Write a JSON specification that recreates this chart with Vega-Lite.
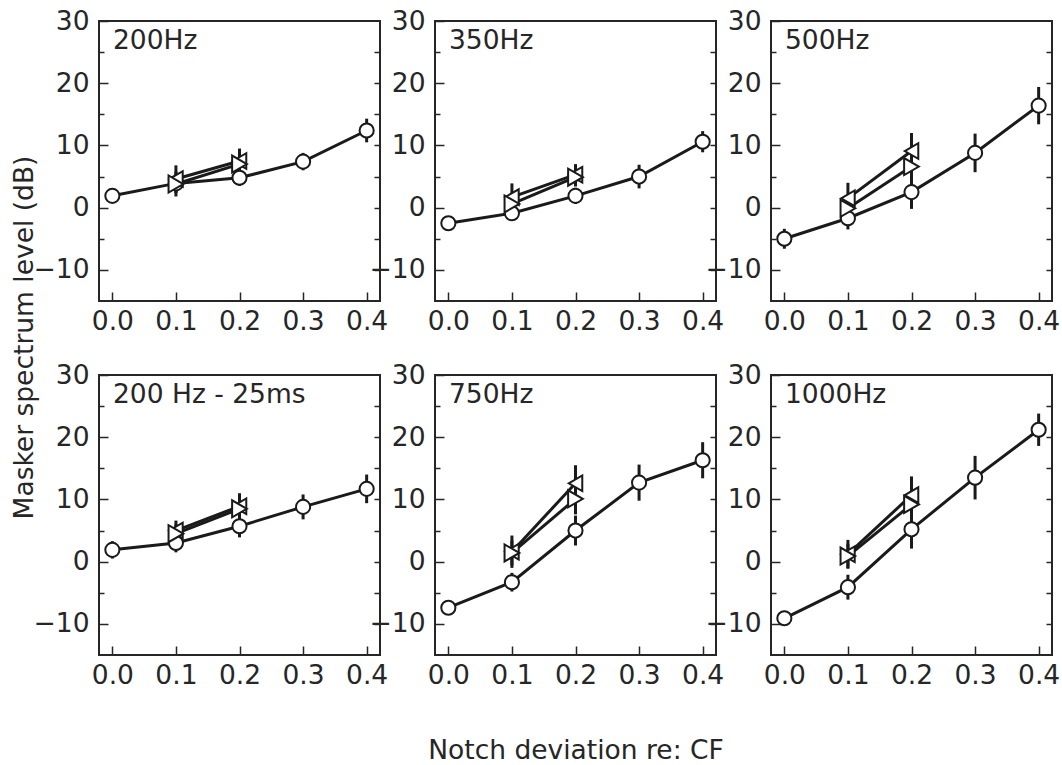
{
  "$schema": "https://vega.github.io/schema/vega-lite/v6.json",
  "padding": {"left": 10, "top": 7, "right": 0, "bottom": 0},
  "background": "white",
  "config": {
    "view": {"stroke": "#262626", "strokeWidth": 2},
    "font": "DejaVu Sans",
    "title": {"font": "DejaVu Sans", "fontSize": 26.5, "fontWeight": "normal", "color": "#262626"},
    "axis": {"labelFont": "DejaVu Sans", "labelFontSize": 26.5, "labelColor": "#262626", "tickColor": "#262626", "tickWidth": 1.5, "grid": false, "domain": false,
             "titleFont": "DejaVu Sans", "titleFontSize": 26.5, "titleFontWeight": "normal", "titleColor": "#262626"}
  },
  "data": {
    "values": [
      {"panel": "200Hz", "series": "circle", "x": 0.0, "y": 1.9, "err": 1.0},
      {"panel": "200Hz", "series": "circle", "x": 0.1, "y": 3.9, "err": 1.5},
      {"panel": "200Hz", "series": "circle", "x": 0.2, "y": 4.8, "err": 1.3},
      {"panel": "200Hz", "series": "circle", "x": 0.3, "y": 7.4, "err": 1.4},
      {"panel": "200Hz", "series": "circle", "x": 0.4, "y": 12.4, "err": 1.9},
      {"panel": "200Hz", "series": "triangle-left", "x": 0.1, "y": 4.6, "err": 2.2},
      {"panel": "200Hz", "series": "triangle-left", "x": 0.2, "y": 7.5, "err": 2.0},
      {"panel": "200Hz", "series": "triangle-right", "x": 0.1, "y": 3.8, "err": 2.0},
      {"panel": "200Hz", "series": "triangle-right", "x": 0.2, "y": 7.0, "err": 1.8},

      {"panel": "350Hz", "series": "circle", "x": 0.0, "y": -2.5, "err": 1.0},
      {"panel": "350Hz", "series": "circle", "x": 0.1, "y": -0.9, "err": 1.2},
      {"panel": "350Hz", "series": "circle", "x": 0.2, "y": 1.9, "err": 1.3},
      {"panel": "350Hz", "series": "circle", "x": 0.3, "y": 5.0, "err": 1.9},
      {"panel": "350Hz", "series": "circle", "x": 0.4, "y": 10.6, "err": 1.7},
      {"panel": "350Hz", "series": "triangle-left", "x": 0.1, "y": 1.7, "err": 2.2},
      {"panel": "350Hz", "series": "triangle-left", "x": 0.2, "y": 5.3, "err": 1.7},
      {"panel": "350Hz", "series": "triangle-right", "x": 0.1, "y": 0.6, "err": 1.5},
      {"panel": "350Hz", "series": "triangle-right", "x": 0.2, "y": 4.9, "err": 1.5},

      {"panel": "500Hz", "series": "circle", "x": 0.0, "y": -5.0, "err": 1.6},
      {"panel": "500Hz", "series": "circle", "x": 0.1, "y": -1.7, "err": 1.8},
      {"panel": "500Hz", "series": "circle", "x": 0.2, "y": 2.5, "err": 2.7},
      {"panel": "500Hz", "series": "circle", "x": 0.3, "y": 8.8, "err": 3.1},
      {"panel": "500Hz", "series": "circle", "x": 0.4, "y": 16.4, "err": 3.0},
      {"panel": "500Hz", "series": "triangle-left", "x": 0.1, "y": 1.5, "err": 2.5},
      {"panel": "500Hz", "series": "triangle-left", "x": 0.2, "y": 9.1, "err": 2.9},
      {"panel": "500Hz", "series": "triangle-right", "x": 0.1, "y": -0.1, "err": 2.0},
      {"panel": "500Hz", "series": "triangle-right", "x": 0.2, "y": 6.6, "err": 2.5},

      {"panel": "200 Hz - 25ms", "series": "circle", "x": 0.0, "y": 1.9, "err": 1.4},
      {"panel": "200 Hz - 25ms", "series": "circle", "x": 0.1, "y": 3.0, "err": 1.5},
      {"panel": "200 Hz - 25ms", "series": "circle", "x": 0.2, "y": 5.7, "err": 1.8},
      {"panel": "200 Hz - 25ms", "series": "circle", "x": 0.3, "y": 8.8, "err": 2.0},
      {"panel": "200 Hz - 25ms", "series": "circle", "x": 0.4, "y": 11.7, "err": 2.3},
      {"panel": "200 Hz - 25ms", "series": "triangle-left", "x": 0.1, "y": 5.0, "err": 1.6},
      {"panel": "200 Hz - 25ms", "series": "triangle-left", "x": 0.2, "y": 8.9, "err": 2.1},
      {"panel": "200 Hz - 25ms", "series": "triangle-right", "x": 0.1, "y": 4.5, "err": 1.5},
      {"panel": "200 Hz - 25ms", "series": "triangle-right", "x": 0.2, "y": 8.5, "err": 2.0},

      {"panel": "750Hz", "series": "circle", "x": 0.0, "y": -7.4, "err": 1.0},
      {"panel": "750Hz", "series": "circle", "x": 0.1, "y": -3.3, "err": 1.5},
      {"panel": "750Hz", "series": "circle", "x": 0.2, "y": 5.0, "err": 2.4},
      {"panel": "750Hz", "series": "circle", "x": 0.3, "y": 12.7, "err": 2.9},
      {"panel": "750Hz", "series": "circle", "x": 0.4, "y": 16.3, "err": 2.9},
      {"panel": "750Hz", "series": "triangle-left", "x": 0.1, "y": 1.6, "err": 2.6},
      {"panel": "750Hz", "series": "triangle-left", "x": 0.2, "y": 12.6, "err": 2.9},
      {"panel": "750Hz", "series": "triangle-right", "x": 0.1, "y": 1.4, "err": 2.0},
      {"panel": "750Hz", "series": "triangle-right", "x": 0.2, "y": 10.1, "err": 2.5},

      {"panel": "1000Hz", "series": "circle", "x": 0.0, "y": -9.1, "err": 1.2},
      {"panel": "1000Hz", "series": "circle", "x": 0.1, "y": -4.1, "err": 2.0},
      {"panel": "1000Hz", "series": "circle", "x": 0.2, "y": 5.2, "err": 3.1},
      {"panel": "1000Hz", "series": "circle", "x": 0.3, "y": 13.5, "err": 3.5},
      {"panel": "1000Hz", "series": "circle", "x": 0.4, "y": 21.2, "err": 2.6},
      {"panel": "1000Hz", "series": "triangle-left", "x": 0.1, "y": 1.2, "err": 2.3},
      {"panel": "1000Hz", "series": "triangle-left", "x": 0.2, "y": 10.7, "err": 3.0},
      {"panel": "1000Hz", "series": "triangle-right", "x": 0.1, "y": 0.9, "err": 2.0},
      {"panel": "1000Hz", "series": "triangle-right", "x": 0.2, "y": 9.2, "err": 2.5}
    ]
  },
  "columns": 3,
  "spacing": {"row": 74, "column": 55},
  "bounds": "flush",
  "concat": [
    {
      "title": {"text": "200Hz", "anchor": "start", "frame": "group", "offset": -67, "dx": 14, "baseline": "alphabetic"},
      "width": 281, "height": 280,
      "transform": [{"filter": "datum.panel === '200Hz'"}],
      "encoding": {
        "x": {"field": "x", "type": "quantitative", "scale": {"domain": [-0.021, 0.421], "nice": false, "zero": false},
              "axis": {"values": [0, 0.1, 0.2, 0.3, 0.4], "format": ".1f", "tickSize": -9, "labelPadding": 16, "labelFlush": false, "title": null}}
      },
      "layer": [
        {"mark": {"type": "errorbar", "thickness": 3, "color": "#1a1a1a"},
         "encoding": {"y": {"field": "y", "type": "quantitative", "scale": {"domain": [-15, 30], "nice": false, "zero": false}, "axis": null}, "yError": {"field": "err"}}},
        {"mark": {"type": "line", "strokeWidth": 3, "color": "#1a1a1a"},
         "encoding": {"y": {"field": "y", "type": "quantitative", "scale": {"domain": [-15, 30], "nice": false, "zero": false},
                            "axis": {"orient": "right", "values": [-10, -5, 0, 5, 10, 15, 20, 25], "labels": false, "tickSize": -6, "title": null}},
                      "detail": {"field": "series"}}},
        {"mark": {"type": "point", "filled": true, "fill": "white", "stroke": "#1a1a1a", "strokeWidth": 2, "opacity": 1},
         "encoding": {"y": {"field": "y", "type": "quantitative", "scale": {"domain": [-15, 30], "nice": false, "zero": false},
                            "axis": {"orient": "left", "values": [-10, -5, 0, 5, 10, 15, 20, 25, 30], "labelExpr": "datum.value % 10 === 0 ? datum.label : ''", "tickSize": {"condition": {"test": "datum.value % 10 === 0", "value": -9}, "value": -5}, "labelPadding": 19, "labelOverlap": false,
                                     "title": "Masker spectrum level (dB)", "titleAnchor": "middle", "titleY": 316, "titlePadding": -5}},
                      "shape": {"field": "series", "type": "nominal", "scale": null},
                      "size": {"field": "series", "type": "ordinal", "scale": {"domain": ["circle", "triangle-left", "triangle-right"], "range": [200, 290, 290]}, "legend": null}}}
      ],
      "resolve": {"axis": {"y": "independent"}}
    },
    {
      "title": {"text": "350Hz", "anchor": "start", "frame": "group", "offset": -67, "dx": 14, "baseline": "alphabetic"},
      "width": 281, "height": 280,
      "transform": [{"filter": "datum.panel === '350Hz'"}],
      "encoding": {
        "x": {"field": "x", "type": "quantitative", "scale": {"domain": [-0.021, 0.421], "nice": false, "zero": false},
              "axis": {"values": [0, 0.1, 0.2, 0.3, 0.4], "format": ".1f", "tickSize": -9, "labelPadding": 16, "labelFlush": false, "title": null}}
      },
      "layer": [
        {"mark": {"type": "errorbar", "thickness": 3, "color": "#1a1a1a"},
         "encoding": {"y": {"field": "y", "type": "quantitative", "scale": {"domain": [-15, 30], "nice": false, "zero": false}, "axis": null}, "yError": {"field": "err"}}},
        {"mark": {"type": "line", "strokeWidth": 3, "color": "#1a1a1a"},
         "encoding": {"y": {"field": "y", "type": "quantitative", "scale": {"domain": [-15, 30], "nice": false, "zero": false},
                            "axis": {"orient": "right", "values": [-10, -5, 0, 5, 10, 15, 20, 25], "labels": false, "tickSize": -6, "title": null}},
                      "detail": {"field": "series"}}},
        {"mark": {"type": "point", "filled": true, "fill": "white", "stroke": "#1a1a1a", "strokeWidth": 2, "opacity": 1},
         "encoding": {"y": {"field": "y", "type": "quantitative", "scale": {"domain": [-15, 30], "nice": false, "zero": false},
                            "axis": {"orient": "left", "values": [-10, -5, 0, 5, 10, 15, 20, 25, 30], "labelExpr": "datum.value % 10 === 0 ? datum.label : ''", "tickSize": {"condition": {"test": "datum.value % 10 === 0", "value": -9}, "value": -5}, "labelPadding": 19, "labelOverlap": false, "title": null}},
                      "shape": {"field": "series", "type": "nominal", "scale": null},
                      "size": {"field": "series", "type": "ordinal", "scale": {"domain": ["circle", "triangle-left", "triangle-right"], "range": [200, 290, 290]}, "legend": null}}}
      ],
      "resolve": {"axis": {"y": "independent"}}
    },
    {
      "title": {"text": "500Hz", "anchor": "start", "frame": "group", "offset": -67, "dx": 14, "baseline": "alphabetic"},
      "width": 281, "height": 280,
      "transform": [{"filter": "datum.panel === '500Hz'"}],
      "encoding": {
        "x": {"field": "x", "type": "quantitative", "scale": {"domain": [-0.021, 0.421], "nice": false, "zero": false},
              "axis": {"values": [0, 0.1, 0.2, 0.3, 0.4], "format": ".1f", "tickSize": -9, "labelPadding": 16, "labelFlush": false, "title": null}}
      },
      "layer": [
        {"mark": {"type": "errorbar", "thickness": 3, "color": "#1a1a1a"},
         "encoding": {"y": {"field": "y", "type": "quantitative", "scale": {"domain": [-15, 30], "nice": false, "zero": false}, "axis": null}, "yError": {"field": "err"}}},
        {"mark": {"type": "line", "strokeWidth": 3, "color": "#1a1a1a"},
         "encoding": {"y": {"field": "y", "type": "quantitative", "scale": {"domain": [-15, 30], "nice": false, "zero": false},
                            "axis": {"orient": "right", "values": [-10, -5, 0, 5, 10, 15, 20, 25], "labels": false, "tickSize": -6, "title": null}},
                      "detail": {"field": "series"}}},
        {"mark": {"type": "point", "filled": true, "fill": "white", "stroke": "#1a1a1a", "strokeWidth": 2, "opacity": 1},
         "encoding": {"y": {"field": "y", "type": "quantitative", "scale": {"domain": [-15, 30], "nice": false, "zero": false},
                            "axis": {"orient": "left", "values": [-10, -5, 0, 5, 10, 15, 20, 25, 30], "labelExpr": "datum.value % 10 === 0 ? datum.label : ''", "tickSize": {"condition": {"test": "datum.value % 10 === 0", "value": -9}, "value": -5}, "labelPadding": 19, "labelOverlap": false, "title": null}},
                      "shape": {"field": "series", "type": "nominal", "scale": null},
                      "size": {"field": "series", "type": "ordinal", "scale": {"domain": ["circle", "triangle-left", "triangle-right"], "range": [200, 290, 290]}, "legend": null}}}
      ],
      "resolve": {"axis": {"y": "independent"}}
    },
    {
      "title": {"text": "200 Hz - 25ms", "anchor": "start", "frame": "group", "offset": -67, "dx": 14, "baseline": "alphabetic"},
      "width": 281, "height": 280,
      "transform": [{"filter": "datum.panel === '200 Hz - 25ms'"}],
      "encoding": {
        "x": {"field": "x", "type": "quantitative", "scale": {"domain": [-0.021, 0.421], "nice": false, "zero": false},
              "axis": {"values": [0, 0.1, 0.2, 0.3, 0.4], "format": ".1f", "tickSize": -9, "labelPadding": 16, "labelFlush": false, "title": null}}
      },
      "layer": [
        {"mark": {"type": "errorbar", "thickness": 3, "color": "#1a1a1a"},
         "encoding": {"y": {"field": "y", "type": "quantitative", "scale": {"domain": [-15, 30], "nice": false, "zero": false}, "axis": null}, "yError": {"field": "err"}}},
        {"mark": {"type": "line", "strokeWidth": 3, "color": "#1a1a1a"},
         "encoding": {"y": {"field": "y", "type": "quantitative", "scale": {"domain": [-15, 30], "nice": false, "zero": false},
                            "axis": {"orient": "right", "values": [-10, -5, 0, 5, 10, 15, 20, 25], "labels": false, "tickSize": -6, "title": null}},
                      "detail": {"field": "series"}}},
        {"mark": {"type": "point", "filled": true, "fill": "white", "stroke": "#1a1a1a", "strokeWidth": 2, "opacity": 1},
         "encoding": {"y": {"field": "y", "type": "quantitative", "scale": {"domain": [-15, 30], "nice": false, "zero": false},
                            "axis": {"orient": "left", "values": [-10, -5, 0, 5, 10, 15, 20, 25, 30], "labelExpr": "datum.value % 10 === 0 ? datum.label : ''", "tickSize": {"condition": {"test": "datum.value % 10 === 0", "value": -9}, "value": -5}, "labelPadding": 19, "labelOverlap": false, "title": null}},
                      "shape": {"field": "series", "type": "nominal", "scale": null},
                      "size": {"field": "series", "type": "ordinal", "scale": {"domain": ["circle", "triangle-left", "triangle-right"], "range": [200, 290, 290]}, "legend": null}}}
      ],
      "resolve": {"axis": {"y": "independent"}}
    },
    {
      "title": {"text": "750Hz", "anchor": "start", "frame": "group", "offset": -67, "dx": 14, "baseline": "alphabetic"},
      "width": 281, "height": 280,
      "transform": [{"filter": "datum.panel === '750Hz'"}],
      "encoding": {
        "x": {"field": "x", "type": "quantitative", "scale": {"domain": [-0.021, 0.421], "nice": false, "zero": false},
              "axis": {"values": [0, 0.1, 0.2, 0.3, 0.4], "format": ".1f", "tickSize": -9, "labelPadding": 16, "labelFlush": false,
                       "title": "Notch deviation re: CF", "titlePadding": 49}}
      },
      "layer": [
        {"mark": {"type": "errorbar", "thickness": 3, "color": "#1a1a1a"},
         "encoding": {"y": {"field": "y", "type": "quantitative", "scale": {"domain": [-15, 30], "nice": false, "zero": false}, "axis": null}, "yError": {"field": "err"}}},
        {"mark": {"type": "line", "strokeWidth": 3, "color": "#1a1a1a"},
         "encoding": {"y": {"field": "y", "type": "quantitative", "scale": {"domain": [-15, 30], "nice": false, "zero": false},
                            "axis": {"orient": "right", "values": [-10, -5, 0, 5, 10, 15, 20, 25], "labels": false, "tickSize": -6, "title": null}},
                      "detail": {"field": "series"}}},
        {"mark": {"type": "point", "filled": true, "fill": "white", "stroke": "#1a1a1a", "strokeWidth": 2, "opacity": 1},
         "encoding": {"y": {"field": "y", "type": "quantitative", "scale": {"domain": [-15, 30], "nice": false, "zero": false},
                            "axis": {"orient": "left", "values": [-10, -5, 0, 5, 10, 15, 20, 25, 30], "labelExpr": "datum.value % 10 === 0 ? datum.label : ''", "tickSize": {"condition": {"test": "datum.value % 10 === 0", "value": -9}, "value": -5}, "labelPadding": 19, "labelOverlap": false, "title": null}},
                      "shape": {"field": "series", "type": "nominal", "scale": null},
                      "size": {"field": "series", "type": "ordinal", "scale": {"domain": ["circle", "triangle-left", "triangle-right"], "range": [200, 290, 290]}, "legend": null}}}
      ],
      "resolve": {"axis": {"y": "independent"}}
    },
    {
      "title": {"text": "1000Hz", "anchor": "start", "frame": "group", "offset": -67, "dx": 14, "baseline": "alphabetic"},
      "width": 281, "height": 280,
      "transform": [{"filter": "datum.panel === '1000Hz'"}],
      "encoding": {
        "x": {"field": "x", "type": "quantitative", "scale": {"domain": [-0.021, 0.421], "nice": false, "zero": false},
              "axis": {"values": [0, 0.1, 0.2, 0.3, 0.4], "format": ".1f", "tickSize": -9, "labelPadding": 16, "labelFlush": false, "title": null}}
      },
      "layer": [
        {"mark": {"type": "errorbar", "thickness": 3, "color": "#1a1a1a"},
         "encoding": {"y": {"field": "y", "type": "quantitative", "scale": {"domain": [-15, 30], "nice": false, "zero": false}, "axis": null}, "yError": {"field": "err"}}},
        {"mark": {"type": "line", "strokeWidth": 3, "color": "#1a1a1a"},
         "encoding": {"y": {"field": "y", "type": "quantitative", "scale": {"domain": [-15, 30], "nice": false, "zero": false},
                            "axis": {"orient": "right", "values": [-10, -5, 0, 5, 10, 15, 20, 25], "labels": false, "tickSize": -6, "title": null}},
                      "detail": {"field": "series"}}},
        {"mark": {"type": "point", "filled": true, "fill": "white", "stroke": "#1a1a1a", "strokeWidth": 2, "opacity": 1},
         "encoding": {"y": {"field": "y", "type": "quantitative", "scale": {"domain": [-15, 30], "nice": false, "zero": false},
                            "axis": {"orient": "left", "values": [-10, -5, 0, 5, 10, 15, 20, 25, 30], "labelExpr": "datum.value % 10 === 0 ? datum.label : ''", "tickSize": {"condition": {"test": "datum.value % 10 === 0", "value": -9}, "value": -5}, "labelPadding": 19, "labelOverlap": false, "title": null}},
                      "shape": {"field": "series", "type": "nominal", "scale": null},
                      "size": {"field": "series", "type": "ordinal", "scale": {"domain": ["circle", "triangle-left", "triangle-right"], "range": [200, 290, 290]}, "legend": null}}}
      ],
      "resolve": {"axis": {"y": "independent"}}
    }
  ]
}
